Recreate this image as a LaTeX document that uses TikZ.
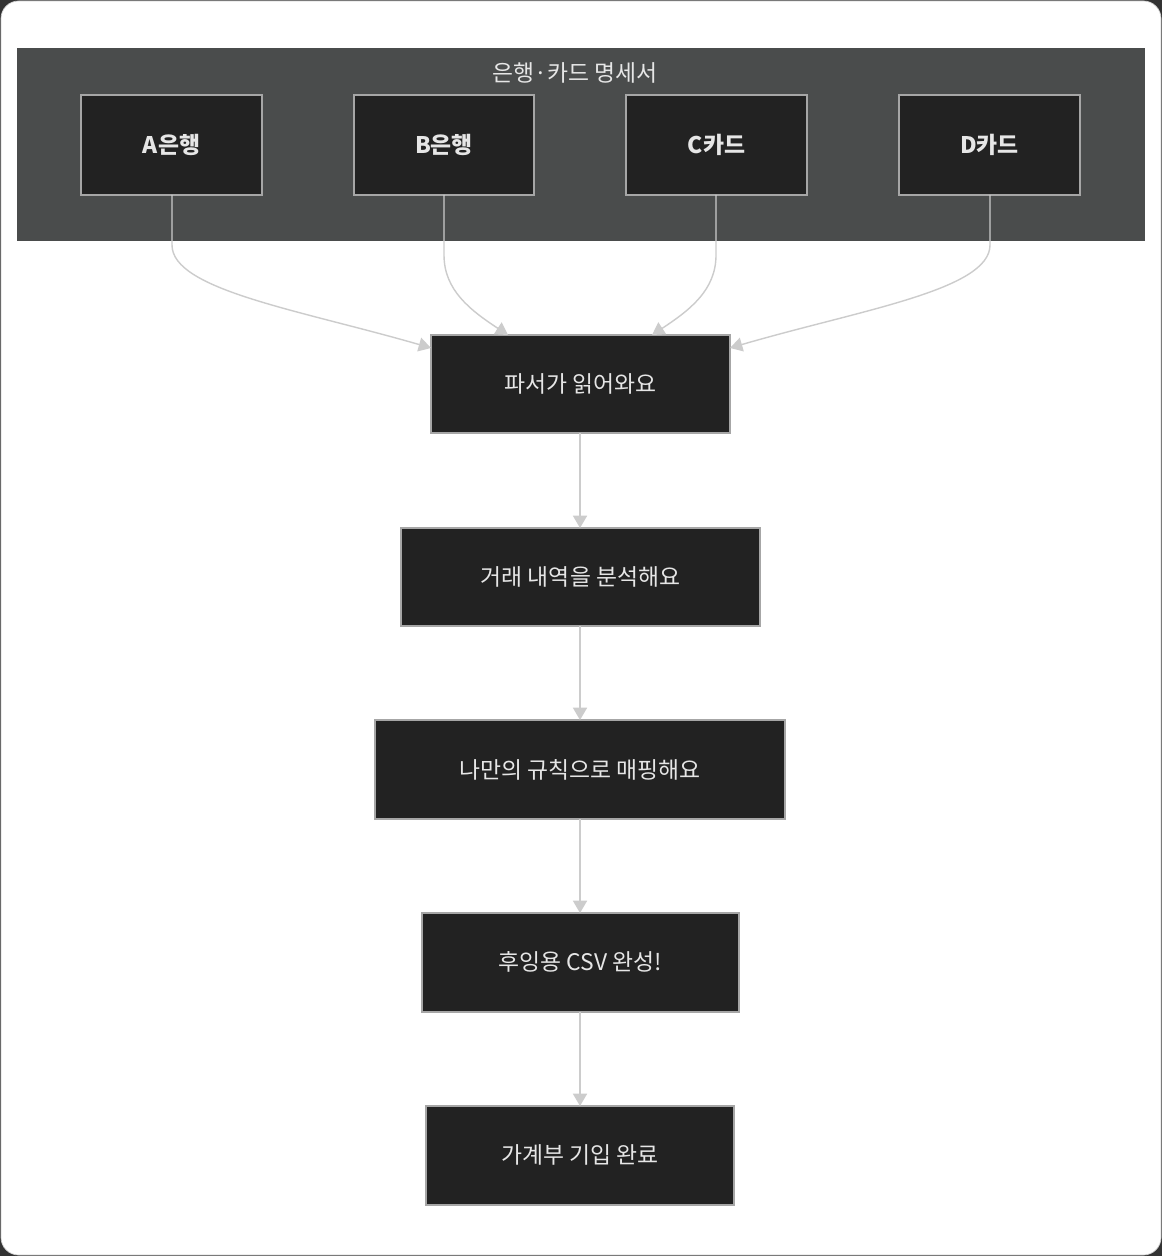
\documentclass[tikz,border=0pt]{standalone}
\usepackage{fontspec}
\setmainfont{Noto Sans CJK KR}
\usetikzlibrary{arrows.meta}
\definecolor{boxfill}{HTML}{222222}
\definecolor{clusterfill}{HTML}{4A4C4C}
\definecolor{edgecol}{HTML}{CCCCCC}
\definecolor{txtcol}{HTML}{E6E6E6}

\begin{document}
\begin{tikzpicture}[x=0.02cm, y=-0.02cm,
  every node/.style={font=\fontsize{13}{15}\selectfont, text=txtcol},
  box/.style={draw=gray!70, fill=boxfill, line width=0.7pt},
  flow/.style={draw=edgecol, line width=0.8pt, -{Triangle[length=7pt,width=8pt]}}]

\fill[black!80] (0,0) rectangle (1162,1256);
\draw[fill=white, draw=edgecol, rounded corners=10] (1,1) rectangle (1161,1255);
\useasboundingbox (0,0) rectangle (1162,1256);

% cluster
\fill[clusterfill] (17,48) rectangle (1145,241);
\node (title) at (575,73) {은행·카드 명세서};

\draw[box] (81,95) rectangle (262,195);   \node[font=\fontsize{13}{15}\selectfont\bfseries] (A) at (171.5,145) {A은행};
\draw[box] (354,95) rectangle (534,195);  \node[font=\fontsize{13}{15}\selectfont\bfseries] (B) at (444,145) {B은행};
\draw[box] (626,95) rectangle (807,195);  \node[font=\fontsize{13}{15}\selectfont\bfseries] (C) at (716.5,145) {C카드};
\draw[box] (899,95) rectangle (1080,195); \node[font=\fontsize{13}{15}\selectfont\bfseries] (D) at (989.5,145) {D카드};
\coordinate (Ab) at (172,195); \coordinate (Bb) at (444,195);
\coordinate (Cb) at (716,195); \coordinate (Db) at (990,195);

% steps
\draw[box] (431,335) rectangle (730,433);  \node (parse) at (580.5,384) {파서가 읽어와요};
\draw[box] (401,528) rectangle (760,626);  \node (analyze) at (580.5,577) {거래 내역을 분석해요};
\draw[box] (375,720) rectangle (785,819);  \node (mapping) at (580,770) {나만의 규칙으로 매핑해요};
\draw[box] (422,913) rectangle (739,1012); \node (csv) at (580.5,962) {후잉용 CSV 완성!};
\draw[box] (426,1106) rectangle (734,1205); \node (done) at (580,1155) {가계부 기입 완료};

\coordinate (pA) at (431,348); \coordinate (pB) at (508,335);
\coordinate (pC) at (652,335); \coordinate (pD) at (730,348);

\draw[flow] (Ab) -- (172,245) .. controls (172,290) and (300,310) .. (pA);
\draw[flow] (Bb) -- (444,255) .. controls (444,290) and (470,310) .. (pB);
\draw[flow] (Cb) -- (716,255) .. controls (716,290) and (690,310) .. (pC);
\draw[flow] (Db) -- (990,245) .. controls (990,290) and (860,310) .. (pD);

\draw[flow] (580,433) -- (580,528);
\draw[flow] (580,626) -- (580,720);
\draw[flow] (580,819) -- (580,913);
\draw[flow] (580,1012) -- (580,1106);
\end{tikzpicture}
\end{document}
